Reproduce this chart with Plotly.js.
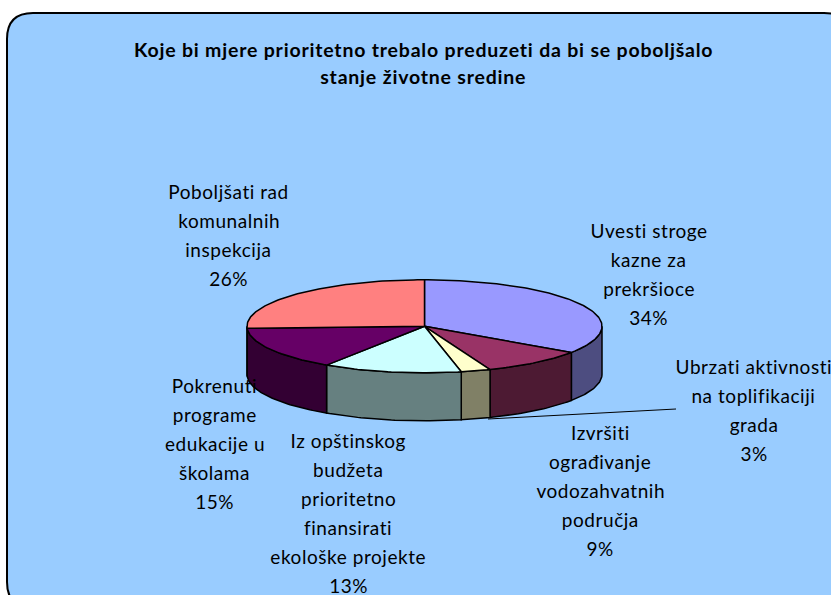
<!DOCTYPE html>
<html>
<head>
<meta charset="utf-8">
<script src="https://cdn.plot.ly/plotly-3.0.1.min.js"></script>
<style>
html,body{margin:0;padding:0;background:#fff;overflow:hidden}
#chart{width:831px;height:595px}
#chart .annotation-text{letter-spacing:.55px}
#chart .annotation-text tspan[style*="bold"]{letter-spacing:.8px}
</style>
</head>
<body>
<div id="chart"></div>
<script>
const titleLines = ["Koje bi mjere prioritetno trebalo preduzeti da bi se poboljšalo", "stanje životne sredine"];
const categories = [
  ["Uvesti stroge", "kazne za", "prekršioce"],
  ["Izvršiti", "ograđivanje", "vodozahvatnih", "područja"],
  ["Ubrzati aktivnosti", "na toplifikaciji", "grada"],
  ["Iz opštinskog", "budžeta", "prioritetno", "finansirati", "ekološke projekte"],
  ["Pokrenuti", "programe", "edukacije u", "školama"],
  ["Poboljšati rad", "komunalnih", "inspekcija"]
];
const values = [34.49, 9.49, 2.7, 12.62, 15.0, 25.7];
const topColors = ["#9999FF", "#993366", "#FFFFCC", "#CCFFFF", "#660066", "#FF8080"];
const sideColors = ["#4D4D80", "#4D1A33", "#808066", "#668080", "#330033", "#804040"];

// layout settings (pixels of the 831x595 window)
const cx = 424.5, cy = 326.3, rx = 177.5, ry = 46.5, depth = 48;
const labelAnchors = [[648.5, 230], [600, 432], [753.5, 366], [348, 440], [214.5, 385], [228.5, 191]];
const lineGap = 29;
const FONT = "Lato, 'Open Sans', sans-serif";

const total = values.reduce((a, b) => a + b, 0);
const ex = t => cx + rx * Math.sin(t);
const ey = t => cy - ry * Math.cos(t);
function arc(a, b) {
  const out = [], n = Math.max(2, Math.ceil((b - a) / 0.02));
  for (let i = 0; i <= n; i++) out.push(a + (b - a) * i / n);
  return out;
}

const rims = [], tops = [];
let acc = 0;
values.forEach((v, i) => {
  const a = acc / total * 2 * Math.PI;
  acc += v;
  const b = acc / total * 2 * Math.PI;
  const ts = arc(a, b);
  tops.push({
    type: "scatter", mode: "lines", hoverinfo: "skip", showlegend: false, fill: "toself",
    fillcolor: topColors[i], line: {color: "#000", width: 1.5},
    x: [cx, ...ts.map(ex), cx],
    y: [cy, ...ts.map(ey), cy]
  });
  const lo = Math.max(a, Math.PI / 2), hi = Math.min(b, 1.5 * Math.PI);
  if (hi > lo) {
    const rs = arc(lo, hi);
    rims.push({
      type: "scatter", mode: "lines", hoverinfo: "skip", showlegend: false, fill: "toself",
      fillcolor: sideColors[i], line: {color: "#000", width: 1.5},
      x: [...rs.map(ex), ...rs.slice().reverse().map(ex), ex(rs[0])],
      y: [...rs.map(ey), ...rs.slice().reverse().map(t => ey(t) + depth), ey(rs[0])]
    });
  }
});

const annotations = [];
function put(text, x, y, size, bold) {
  annotations.push({
    xref: "x", yref: "y", x, y, text: bold ? "<b>" + text + "</b>" : text, showarrow: false,
    xanchor: "center", yanchor: "middle", font: {family: FONT, size, color: "#000"}
  });
}
titleLines.forEach((t, i) => put(t, 423, 49 + i * 27, 19.5, true));
categories.forEach((lines, i) => {
  const [x, y] = labelAnchors[i];
  const all = [...lines, Math.round(values[i] / total * 100) + "%"];
  all.forEach((t, k) => put(t, x, y + k * lineGap, 19, false));
});

const L = 7, T = 13, R = 850, B = 608, r = 26;
const frame = `M ${L + r} ${T} L ${R - r} ${T} Q ${R} ${T} ${R} ${T + r} L ${R} ${B - r} Q ${R} ${B} ${R - r} ${B} L ${L + r} ${B} Q ${L} ${B} ${L} ${B - r} L ${L} ${T + r} Q ${L} ${T} ${L + r} ${T} Z`;

Plotly.newPlot("chart", [...rims, ...tops], {
  width: 831, height: 595,
  margin: {l: 0, r: 0, t: 0, b: 0},
  paper_bgcolor: "#fff", plot_bgcolor: "rgba(0,0,0,0)",
  xaxis: {range: [0, 831], visible: false, fixedrange: true},
  yaxis: {range: [595, 0], visible: false, fixedrange: true},
  showlegend: false,
  annotations,
  shapes: [
    {type: "path", path: frame, layer: "below", xref: "x", yref: "y", fillcolor: "#99CCFF", line: {color: "#000", width: 2}},
    {type: "line", xref: "x", yref: "y", x0: 488, y0: 419, x1: 676, y1: 409, layer: "above", line: {color: "#000", width: 1}}
  ]
}, {displayModeBar: false, staticPlot: true});
</script>
</body>
</html>
